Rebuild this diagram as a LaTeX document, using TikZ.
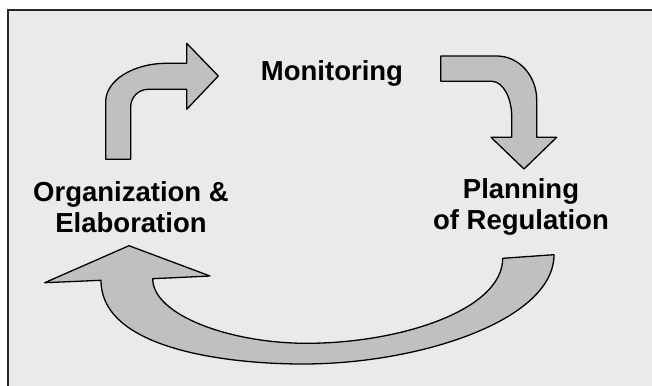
\documentclass[tikz,border=0pt]{standalone}
\usepackage{fontspec}
\setmainfont{Liberation Sans}
\definecolor{bgfill}{HTML}{EAEAEA}
\definecolor{arrowfill}{HTML}{C0C0C0}
\begin{document}
\begin{tikzpicture}[x=1pt,y=-1pt,
  arrowshape/.style={fill=arrowfill,draw=black,line width=1.3pt,line join=round},
  label/.style={font=\fontsize{27.5}{31.5}\selectfont\bfseries,align=center,inner sep=0pt}]
\useasboundingbox (0,0) rectangle (652,385);
% frame
\draw[fill=bgfill,draw=black!85,line width=2pt] (8,10) rectangle (670,400);
% up-right arrow
\path[arrowshape] (105.7,159.3) -- (105.7,101.7)
  .. controls (105.7,80.5) and (133,63.3) .. (166.7,63.3)
  -- (186.7,63.3) -- (186.7,43.3) -- (218.3,76) -- (186.7,109.3) -- (186.7,89.3)
  -- (148.3,89.3) .. controls (138.6,89.3) and (130.7,97.1) .. (130.7,106.7)
  -- (130.7,159.3) -- cycle;
% down-right arrow
\path[arrowshape] (440.7,56) -- (496.7,56)
  .. controls (518.8,56) and (536.7,75.7) .. (536.7,100)
  -- (536.7,137.3) -- (556.7,137.3) -- (524,169) -- (491,137.3) -- (511.7,137.3)
  -- (511.7,116.7) .. controls (511.7,97.2) and (502.7,81.3) .. (491.7,81.3)
  -- (440.7,81.3) -- cycle;
% big bottom arrow
\path[arrowshape] (554,254.7)
  .. controls (554,320) and (420,364) .. (303,364)
  .. controls (230,364) and (101,350) .. (101,280.3)
  -- (44.7,282.7) -- (129,245.7) -- (210,276) -- (152.7,278.7)
  .. controls (152.7,315) and (230,343.3) .. (306.7,343.3)
  .. controls (400,343.3) and (502.7,310) .. (502.7,258.3)
  -- cycle;
% labels
\node[label] (mon) at (332,73) {Monitoring};
\node[label] (org) at (131,207) {Organization \&\\Elaboration};
\node[label] (plan) at (521,207) {Planning\\of Regulation};
\end{tikzpicture}
\end{document}
